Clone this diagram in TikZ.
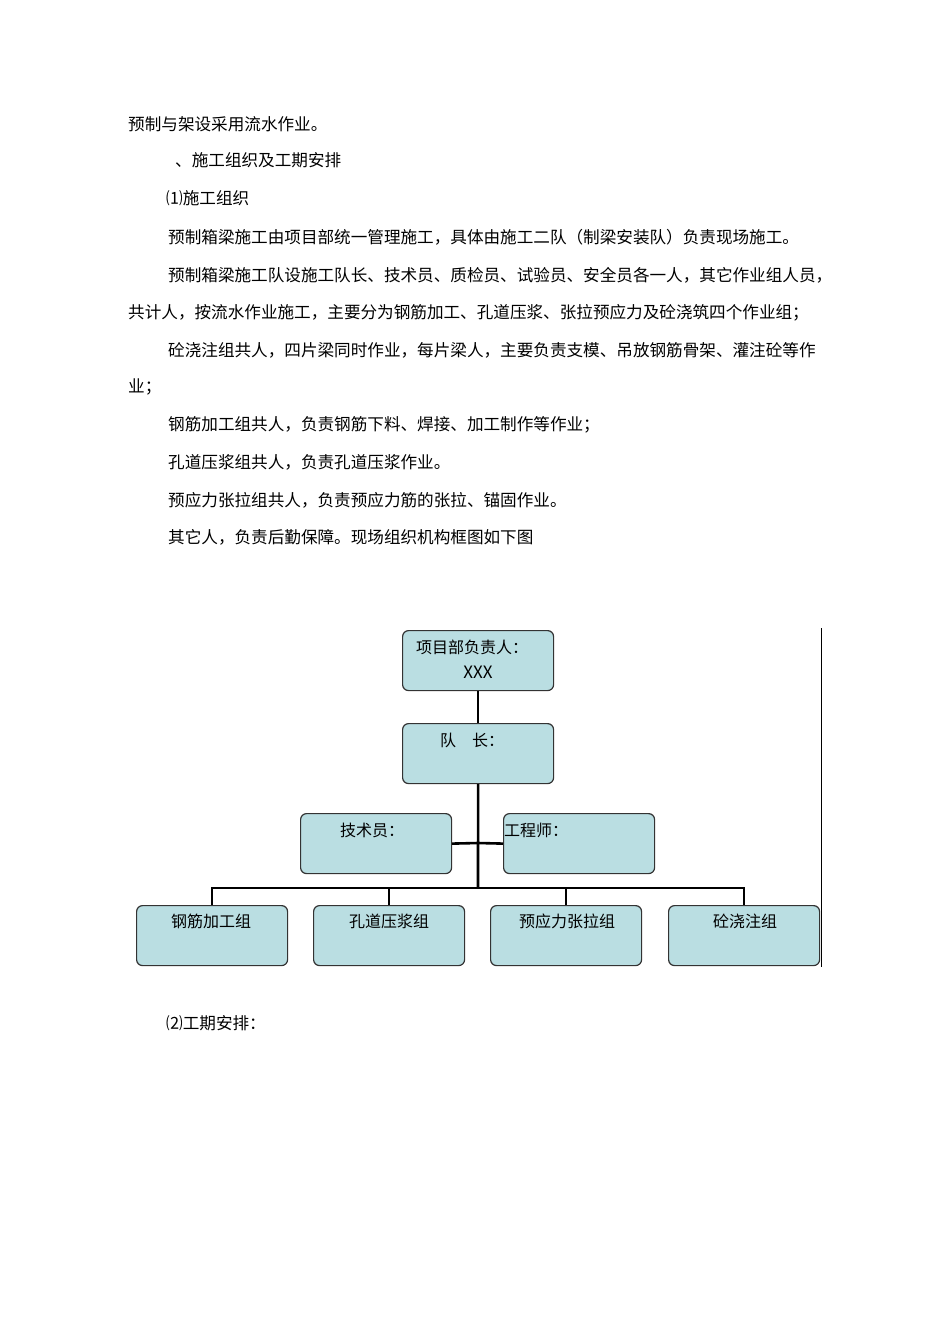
\documentclass[tikz,border=0pt]{standalone}
\usepackage{fontspec}
\setmainfont{Noto Sans CJK SC}
\begin{document}
\begin{tikzpicture}[x=1pt,y=-1pt,
  tx/.style={anchor=west,inner sep=0pt,font=\fontsize{16.6}{17}\selectfont},
  bx/.style={draw=black!80,line width=1.2pt,fill={rgb,255:red,186;green,222;blue,226},rounded corners=6pt,minimum width=151pt,minimum height=60pt,anchor=north west,inner sep=0pt},
  bl/.style={inner sep=0pt,font=\fontsize{16}{17}\selectfont},
  ln/.style={line width=2.6pt}]
\useasboundingbox (0,0) rectangle (950,1344);
\node[tx] (t1) at (128,124) {预制与架设采用流水作业。};
\node[tx] (t2) at (175,160) {、施工组织及工期安排};
\node[tx] (t3) at (166,198) {⑴施工组织};
\node[tx] (t4) at (168,237) {预制箱梁施工由项目部统一管理施工，具体由施工二队（制梁安装队）负责现场施工。};
\node[tx] (t5) at (168,275) {预制箱梁施工队设施工队长、技术员、质检员、试验员、安全员各一人，其它作业组人员，};
\node[tx] (t6) at (128,313) {共计人，按流水作业施工，主要分为钢筋加工、孔道压浆、张拉预应力及砼浇筑四个作业组；};
\node[tx] (t7) at (168,350) {砼浇注组共人，四片梁同时作业，每片梁人，主要负责支模、吊放钢筋骨架、灌注砼等作};
\node[tx] (t8) at (128,387) {业；};
\node[tx] (t9) at (168,425) {钢筋加工组共人，负责钢筋下料、焊接、加工制作等作业；};
\node[tx] (t10) at (168,462) {孔道压浆组共人，负责孔道压浆作业。};
\node[tx] (t11) at (168,500) {预应力张拉组共人，负责预应力筋的张拉、锚固作业。};
\node[tx] (t12) at (168,537) {其它人，负责后勤保障。现场组织机构框图如下图};
\node[tx] (t13) at (166,1023) {⑵工期安排：};

\node[bx] (a) at (402,630) {};
\node[bl] at (472,647) {项目部负责人：};
\node[bl,font=\fontsize{17}{17}\selectfont] at (478,672) {XXX};
\node[bx] (b) at (402,723) {};
\node[bl] at (472,740) {队\quad 长：};
\node[bx] (c) at (300,813) {};
\node[bl] at (372,830) {技术员：};
\node[bx] (d) at (503,813) {};
\node[bl] at (536,830) {工程师：};
\node[bx] (e1) at (136,905) {};
\node[bl] at (211,921) {钢筋加工组};
\node[bx] (e2) at (313,905) {};
\node[bl] at (389,921) {孔道压浆组};
\node[bx] (e3) at (490,905) {};
\node[bl] at (567,921) {预应力张拉组};
\node[bx] (e4) at (668,905) {};
\node[bl] at (745,921) {砼浇注组};

\coordinate (j) at (478,888);
\coordinate (m) at (478,843);
\draw[ln] (a.south) -- (b.north);
\draw[ln] (b.south) -- (j);
\draw[ln] (c.east) -- (m) -- (d.west);
\draw[ln] (e1.north) |- (j) -| (e4.north);
\draw[ln] (e2.north) -- (e2.north |- j);
\draw[ln] (e3.north) -- (e3.north |- j);
\coordinate (r1) at (821,628);
\coordinate (r2) at (821,967);
\draw[line width=1pt] (r1) -- (r2);
\end{tikzpicture}
\end{document}
